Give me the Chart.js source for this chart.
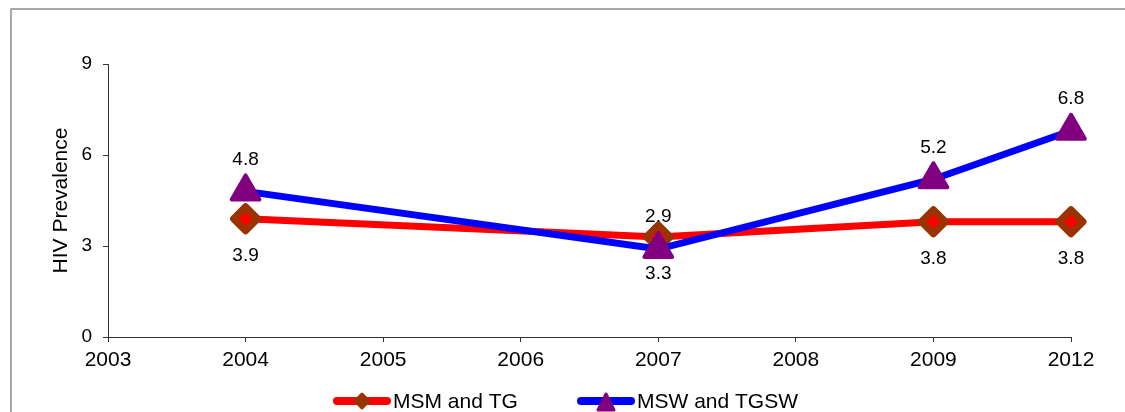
<!DOCTYPE html>
<html>
<head>
<meta charset="utf-8">
<script src="https://cdn.jsdelivr.net/npm/chart.js@4/dist/chart.umd.min.js"></script>
<style>
  html, body { margin: 0; padding: 0; background: #fff; }
  #wrap { width: 1125px; height: 412px; }
</style>
</head>
<body>
<div id="wrap"><canvas id="lineChart" width="1125" height="412"></canvas></div>
<script>
let years = ['2003','2004','2005','2006','2007','2008','2009','2012'];
let msmTG = [null, 3.9, null, null, 3.3, null, 3.8, 3.8];
let mswTGSW = [null, 4.8, null, null, 2.9, null, 5.2, 6.8];
let seriesNames = ['MSM and TG', 'MSW and TGSW'];
let yTicks = [0, 3, 6, 9];

let fontName = '"Liberation Sans", Arial, sans-serif';

// frame round the picture, rounded joins for the markers
let framePlugin = {
  id: 'frame',
  beforeDraw(chart) {
    let c = chart.ctx;
    c.save();
    c.fillStyle = '#fff';
    c.fillRect(0, 0, chart.width, chart.height);
    c.strokeStyle = '#8c8c8c';
    c.lineWidth = 1.5;
    c.beginPath();
    c.moveTo(11, chart.height);
    c.lineTo(11, 9);
    c.lineTo(chart.width, 9);
    c.stroke();
    c.restore();
  },
  beforeDatasetsDraw(chart) {
    chart.ctx.lineJoin = 'round';
  }
};

// value labels: red below the point, blue above
let valueLabels = {
  id: 'valueLabels',
  afterDatasetsDraw(chart) {
    let c = chart.ctx;
    c.save();
    c.font = '19px ' + fontName;
    c.fillStyle = '#000';
    c.textAlign = 'center';
    c.textBaseline = 'middle';
    chart.data.datasets.forEach((ds, i) => {
      let meta = chart.getDatasetMeta(i);
      meta.data.forEach((pt, j) => {
        if (ds.data[j] == null) return;
        let dy = i === 0 ? 37 : -32;
        c.fillText(ds.data[j].toFixed(1), pt.x, pt.y + dy);
      });
    });
    c.restore();
  }
};

// legend with a line and marker for each series
let lineLegend = {
  id: 'lineLegend',
  afterDraw(chart) {
    let c = chart.ctx;
    let y = 401;
    let items = [
      { x: 334, color: '#ff0000', marker: 'diamond' },
      { x: 578, color: '#0000ff', marker: 'triangle' }
    ];
    c.save();
    items.forEach((it, i) => {
      c.strokeStyle = it.color;
      c.lineWidth = 8;
      c.lineCap = 'round';
      c.beginPath();
      c.moveTo(it.x + 3, y);
      c.lineTo(it.x + 53, y);
      c.stroke();
      let mx = it.x + 28;
      c.lineJoin = 'round';
      if (it.marker === 'diamond') {
        c.fillStyle = '#993300';
        c.strokeStyle = '#993300';
        c.lineWidth = 3;
        c.beginPath();
        c.moveTo(mx, y - 7);
        c.lineTo(mx + 7, y);
        c.lineTo(mx, y + 7);
        c.lineTo(mx - 7, y);
        c.closePath();
        c.fill();
        c.stroke();
      } else {
        c.fillStyle = '#800080';
        c.strokeStyle = '#800080';
        c.lineWidth = 3;
        c.beginPath();
        c.moveTo(mx, y - 7);
        c.lineTo(mx + 8, y + 9);
        c.lineTo(mx - 8, y + 9);
        c.closePath();
        c.fill();
        c.stroke();
      }
      c.fillStyle = '#000';
      c.font = '21px ' + fontName;
      c.textAlign = 'left';
      c.textBaseline = 'middle';
      c.fillText(seriesNames[i], it.x + 59, y + 1);
    });
    c.restore();
  }
};

let ctx = document.getElementById('lineChart').getContext('2d');

let lineChart = new Chart(ctx, {
  type: 'line',
  data: {
    labels: years,
    datasets: [{
      label: seriesNames[0],
      data: msmTG,
      borderColor: '#ff0000',
      borderWidth: 7,
      backgroundColor: '#ff0000',
      pointStyle: 'rectRot',
      pointRadius: 12,
      pointBorderWidth: 7,
      pointBorderColor: '#993300',
      pointBackgroundColor: '#ff0000',
      spanGaps: true,
      tension: 0,
      clip: false,
      order: 1
    }, {
      label: seriesNames[1],
      data: mswTGSW,
      borderColor: '#0000ff',
      borderWidth: 7,
      backgroundColor: '#800080',
      pointStyle: 'triangle',
      pointRadius: 16,
      pointBorderWidth: 4,
      pointBorderColor: '#800080',
      pointBackgroundColor: '#800080',
      spanGaps: true,
      tension: 0,
      clip: false,
      order: 0
    }]
  },
  options: {
    responsive: false,
    animation: false,
    devicePixelRatio: 1,
    layout: {
      padding: { left: 0, top: 64, right: 54, bottom: 0 }
    },
    plugins: {
      legend: { display: false },
      tooltip: { enabled: false }
    },
    scales: {
      x: {
        type: 'category',
        offset: false,
        border: { color: '#333', width: 1 },
        grid: { drawOnChartArea: false, drawTicks: true, tickLength: 5, color: '#333' },
        ticks: {
          color: '#000',
          font: { family: fontName, size: 21 },
          padding: 6,
          maxRotation: 0,
          autoSkip: false
        },
        afterFit(scale) { scale.height = 75; }
      },
      y: {
        min: 0,
        max: 9,
        border: { color: '#333', width: 1 },
        grid: { drawOnChartArea: false, drawTicks: true, tickLength: 5, color: '#333' },
        afterBuildTicks(scale) { scale.ticks = yTicks.map(v => ({ value: v })); },
        ticks: {
          color: '#000',
          font: { family: fontName, size: 19 },
          padding: 11
        },
        title: {
          display: true,
          text: 'HIV Prevalence',
          color: '#000',
          font: { family: fontName, size: 21 },
          padding: { top: 49, bottom: 0 }
        },
        afterFit(scale) { scale.width = 108; }
      }
    }
  },
  plugins: [framePlugin, valueLabels, lineLegend]
});
</script>
</body>
</html>
